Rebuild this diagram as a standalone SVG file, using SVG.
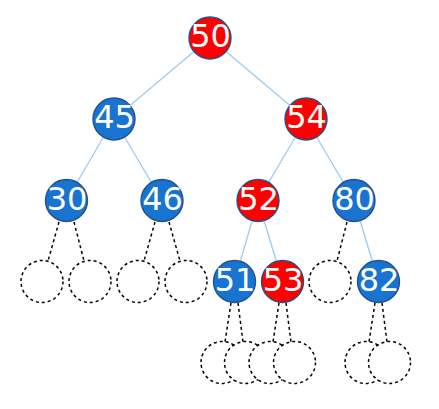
<svg xmlns="http://www.w3.org/2000/svg" width="439" height="409" viewBox="0 0 439 409">
<style>
.e{stroke:#9ccbf2;stroke-width:1.3;fill:none}
.d{stroke:#000;stroke-width:1.5;stroke-dasharray:3,3;fill:none}
.dc{stroke:#000;stroke-width:1.5;stroke-dasharray:3,3;fill:#fff}
.b{fill:#1874d0;stroke:#25508a;stroke-width:1.4}
.r{fill:#ff0000;stroke:#25508a;stroke-width:1.4}
text{font-family:"DejaVu Sans",Verdana,sans-serif;font-size:32px;fill:#fff;text-anchor:middle}
</style>
<g id="connectors">
<line class="e" x1="210" y1="38" x2="114" y2="119"/>
<line class="e" x1="210" y1="38" x2="306" y2="119"/>
<line class="e" x1="114" y1="119" x2="66.5" y2="200.5"/>
<line class="e" x1="114" y1="119" x2="162" y2="200.5"/>
<line class="e" x1="306" y1="119" x2="258" y2="200.5"/>
<line class="e" x1="306" y1="119" x2="354" y2="200.5"/>
<line class="e" x1="258" y1="200.5" x2="234.5" y2="281.5"/>
<line class="e" x1="258" y1="200.5" x2="282.5" y2="281.5"/>
<line class="e" x1="354" y1="200.5" x2="378.5" y2="281.5"/>
<line class="d" x1="59" y1="222" x2="48" y2="261"/>
<line class="d" x1="74" y1="222" x2="84" y2="261"/>
<line class="d" x1="155" y1="222" x2="144" y2="261"/>
<line class="d" x1="169" y1="222" x2="180" y2="261"/>
<line class="d" x1="347" y1="222" x2="337" y2="261"/>
<line class="d" x1="231" y1="303" x2="225" y2="342"/>
<line class="d" x1="238" y1="303" x2="243" y2="342"/>
<line class="d" x1="279" y1="303" x2="273" y2="342"/>
<line class="d" x1="286" y1="303" x2="291" y2="342"/>
<line class="d" x1="375" y1="303" x2="369" y2="342"/>
<line class="d" x1="382" y1="303" x2="387" y2="342"/>
</g>
<g id="n50"><circle class="r" cx="210" cy="38" r="21"/><text x="210.5" y="47">50</text></g>
<g id="n45"><circle class="b" cx="114" cy="119" r="21"/><text x="114.5" y="128">45</text></g>
<g id="n54"><circle class="r" cx="306" cy="119" r="21"/><text x="306.5" y="128">54</text></g>
<g id="n30"><circle class="b" cx="66.5" cy="200.5" r="21"/><text x="67" y="209.5">30</text></g>
<g id="n46"><circle class="b" cx="162" cy="200.5" r="21"/><text x="162.5" y="209.5">46</text></g>
<g id="n52"><circle class="r" cx="258" cy="200.5" r="21"/><text x="258.5" y="209.5">52</text></g>
<g id="n80"><circle class="b" cx="354" cy="200.5" r="21"/><text x="354.5" y="209.5">80</text></g>
<g id="nil1"><circle class="dc" cx="42" cy="281.5" r="21"/></g>
<g id="nil2"><circle class="dc" cx="90" cy="281.5" r="21"/></g>
<g id="nil3"><circle class="dc" cx="138" cy="281.5" r="21"/></g>
<g id="nil4"><circle class="dc" cx="186" cy="281.5" r="21"/></g>
<g id="n51"><circle class="b" cx="234.5" cy="281.5" r="21"/><text x="235" y="290.5">51</text></g>
<g id="n53"><circle class="r" cx="282.5" cy="281.5" r="21"/><text x="283" y="290.5">53</text></g>
<g id="nil5"><circle class="dc" cx="330" cy="281.5" r="21"/></g>
<g id="n82"><circle class="b" cx="378.5" cy="281.5" r="21"/><text x="379" y="290.5">82</text></g>
<g id="nil6"><circle class="dc" cx="222" cy="362.5" r="21"/></g>
<g id="nil7"><circle class="dc" cx="245.5" cy="362.5" r="21"/></g>
<g id="nil8"><circle class="dc" cx="270" cy="362.5" r="21"/></g>
<g id="nil9"><circle class="dc" cx="294.5" cy="362.5" r="21"/></g>
<g id="nil10"><circle class="dc" cx="366" cy="362.5" r="21"/></g>
<g id="nil11"><circle class="dc" cx="389.5" cy="362.5" r="21"/></g>
</svg>
